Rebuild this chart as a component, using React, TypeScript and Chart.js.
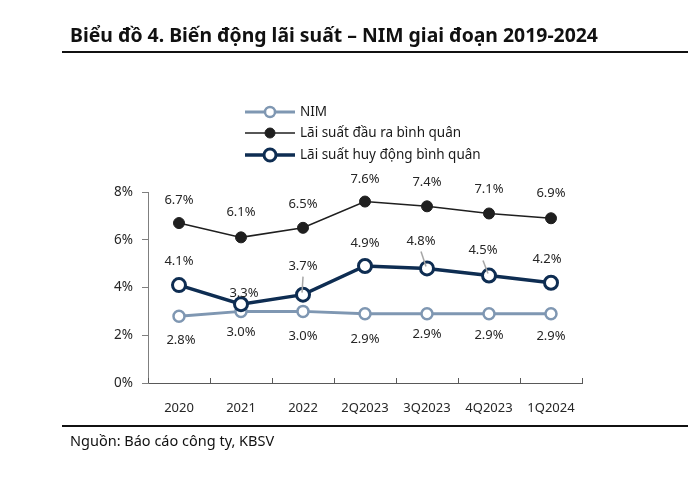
import React, { useEffect, useRef } from "react";
import { Chart, registerables } from "chart.js";

Chart.register(...registerables);

const categories = ["2020", "2021", "2022", "2Q2023", "3Q2023", "4Q2023", "1Q2024"];
const nim = [2.8, 3.0, 3.0, 2.9, 2.9, 2.9, 2.9];
const lendingRate = [6.7, 6.1, 6.5, 7.6, 7.4, 7.1, 6.9];
const depositRate = [4.1, 3.3, 3.7, 4.9, 4.8, 4.5, 4.2];
const yTicks = [0, 2, 4, 6, 8];
const seriesNames = ["NIM", "Lãi suất đầu ra bình quân", "Lãi suất huy động bình quân"];

const FONT = "'Noto Sans', 'Open Sans', sans-serif";
const NIM_COLOR = "#7f97b2";
const LEND_COLOR = "#1f1f1f";
const DEP_COLOR = "#0e2d52";

// label placement (style, not data)
const labelDy = [
  [24, 21, 25, 26, 21, 22, 23],
  [-23, -25, -24, -22, -24, -24, -25],
  [-24, -11, -28, -23, -27, -25, -23],
];
const labelDx = [
  [2, 0, 0, 0, 0, 0, 0],
  [0, 0, 0, 0, 0, 0, 0],
  [0, 3, 0, 0, -6, -6, -4],
];
const leaderIdx = [2, 4, 5];

const labelsPlugin = {
  id: "customLabels",
  afterDatasetsDraw(chart: any) {
    const ctx = chart.ctx;
    ctx.save();
    // leader lines for deposit series
    const depMeta = chart.getDatasetMeta(2);
    ctx.strokeStyle = "#a6a6a6";
    ctx.lineWidth = 1.5;
    leaderIdx.forEach((i) => {
      const p = depMeta.data[i];
      const lx = p.x + labelDx[2][i];
      const ly = p.y + labelDy[2][i];
      ctx.beginPath();
      ctx.moveTo(lx, ly + 10);
      ctx.lineTo(p.x - 1, p.y - 2);
      ctx.stroke();
    });
    ctx.font = `13px ${FONT}`;
    ctx.fillStyle = "#262626";
    ctx.textAlign = "center";
    ctx.textBaseline = "middle";
    chart.data.datasets.forEach((ds: any, di: number) => {
      const meta = chart.getDatasetMeta(di);
      meta.data.forEach((p: any, i: number) => {
        ctx.fillText(
          ds.data[i].toFixed(1) + "%",
          p.x + labelDx[di][i],
          p.y + labelDy[di][i]
        );
      });
    });
    // x-axis inner tick marks at category boundaries
    const xs = chart.scales.x;
    const n = categories.length;
    ctx.strokeStyle = "#595959";
    ctx.lineWidth = 1;
    for (let i = 0; i <= n; i++) {
      const x = Math.round(xs.left + (i * xs.width) / n) + 0.5;
      ctx.beginPath();
      ctx.moveTo(x, xs.top);
      ctx.lineTo(x, xs.top - 5);
      ctx.stroke();
    }
    // legend
    const rows = [112, 133, 155];
    chart.data.datasets.forEach((ds: any, di: number) => {
      const y = rows[di];
      ctx.strokeStyle = ds.borderColor;
      ctx.lineWidth = ds.borderWidth;
      ctx.beginPath();
      ctx.moveTo(245, y);
      ctx.lineTo(295, y);
      ctx.stroke();
      ctx.beginPath();
      ctx.arc(270, y, ds.pointRadius - 0.5, 0, Math.PI * 2);
      ctx.fillStyle = ds.pointBackgroundColor;
      ctx.fill();
      ctx.lineWidth = ds.pointBorderWidth;
      ctx.strokeStyle = ds.pointBorderColor;
      ctx.stroke();
      ctx.fillStyle = "#1a1a1a";
      ctx.font = `13.5px ${FONT}`;
      ctx.textAlign = "left";
      ctx.fillText(ds.label, 300, y);
    });
    ctx.restore();
  },
};

export default function App() {
  const ref = useRef<HTMLCanvasElement>(null);
  useEffect(() => {
    if (!ref.current) return;
    const chart = new Chart(ref.current, {
      type: "line",
      data: {
        labels: categories,
        datasets: [
          {
            label: seriesNames[0],
            data: nim,
            borderColor: NIM_COLOR,
            borderWidth: 3,
            pointRadius: 5.5,
            pointBackgroundColor: "#ffffff",
            pointBorderColor: NIM_COLOR,
            pointBorderWidth: 2.5,
            order: 2,
          },
          {
            label: seriesNames[1],
            data: lendingRate,
            borderColor: LEND_COLOR,
            borderWidth: 1.5,
            pointRadius: 5.5,
            pointBackgroundColor: LEND_COLOR,
            pointBorderColor: LEND_COLOR,
            pointBorderWidth: 1,
            order: 1,
          },
          {
            label: seriesNames[2],
            data: depositRate,
            borderColor: DEP_COLOR,
            borderWidth: 3.5,
            pointRadius: 6.5,
            pointBackgroundColor: "#ffffff",
            pointBorderColor: DEP_COLOR,
            pointBorderWidth: 3,
            order: 0,
          },
        ],
      },
      options: {
        responsive: false,
        animation: false,
        layout: { padding: { top: 192, right: 106, left: 0, bottom: 0 } },
        plugins: { legend: { display: false }, tooltip: { enabled: false } },
        scales: {
          x: {
            offset: true,
            grid: { offset: true, drawOnChartArea: false, drawTicks: false },
            border: { color: "#595959", width: 1 },
            ticks: { padding: 17, color: "#262626", font: { size: 13, family: FONT } },
            afterFit: (s: any) => {
              s.height = 97;
            },
          },
          y: {
            min: 0,
            max: 8,
            afterBuildTicks: (s: any) => {
              s.ticks = yTicks.map((v) => ({ value: v }));
            },
            ticks: {
              padding: 9,
              color: "#262626",
              font: { size: 13.5, family: FONT },
              callback: (v: any) => v + "%",
            },
            grid: { drawOnChartArea: false, tickLength: 6, color: "#7f7f7f" },
            border: { color: "#7f7f7f", width: 1 },
            afterFit: (s: any) => {
              s.width = 148;
            },
          },
        },
      } as any,
      plugins: [labelsPlugin],
    });
    return () => chart.destroy();
  }, []);

  return (
    <div style={{ position: "absolute", left: 0, top: 0, width: 688, height: 480, background: "#fff", fontFamily: FONT }}>
      <canvas ref={ref} width={688} height={480} style={{ position: "absolute", left: 0, top: 0 }} />
      <div style={{ position: "absolute", left: 70, top: 22, fontSize: 19.4, lineHeight: "26px", fontWeight: 700, color: "#111", whiteSpace: "nowrap" }}>
        Biểu đồ 4. Biến động lãi suất – NIM giai đoạn 2019-2024
      </div>
      <div style={{ position: "absolute", left: 62, top: 51, width: 626, height: 2, background: "#111" }} />
      <div style={{ position: "absolute", left: 62, top: 425, width: 626, height: 1.5, background: "#111" }} />
      <div style={{ position: "absolute", left: 70, top: 429, fontSize: 14.5, lineHeight: "22px", color: "#111", whiteSpace: "nowrap" }}>
        Nguồn: Báo cáo công ty, KBSV
      </div>
    </div>
  );
}
